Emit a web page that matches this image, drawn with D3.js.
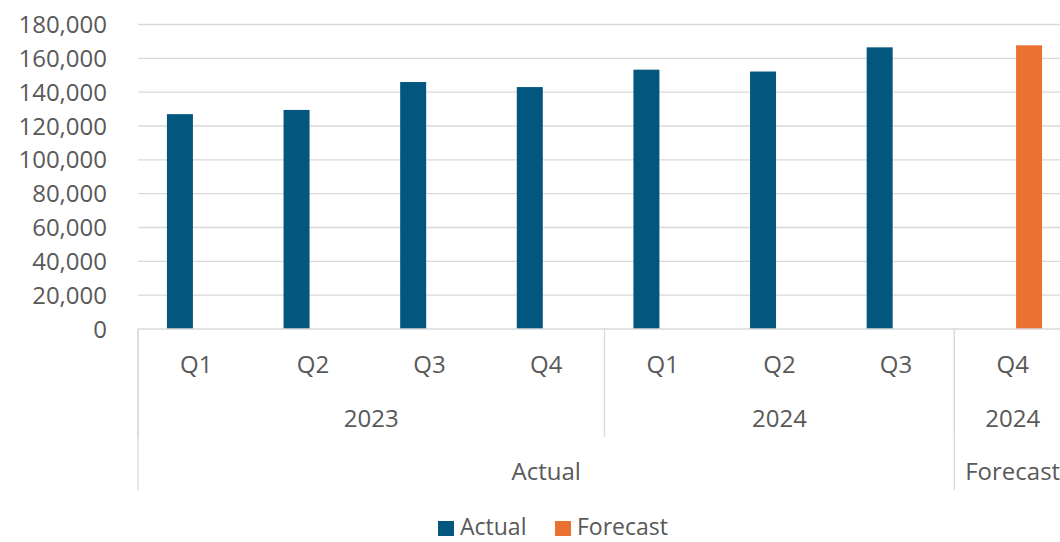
<!DOCTYPE html>
<html>
<head>
<meta charset="utf-8">
<script src="https://cdn.jsdelivr.net/npm/d3@7"></script>
<style>
  body { margin: 0; background: #fff; }
  svg { display: block; }
  text { font-family: "Open Sans", "Liberation Sans", sans-serif; fill: #595959; }
</style>
</head>
<body>
<div id="chart"></div>
<script>
// ---- data ----
var quarters = ["Q1", "Q2", "Q3", "Q4", "Q1", "Q2", "Q3", "Q4"];
var years    = ["2023", "2023", "2023", "2023", "2024", "2024", "2024", "2024"];
var groups   = ["Actual", "Actual", "Actual", "Actual", "Actual", "Actual", "Actual", "Forecast"];
var actual   = [127000, 129500, 146000, 143000, 153300, 152200, 166500, null];
var forecast = [null, null, null, null, null, null, null, 167700];
var seriesNames = ["Actual", "Forecast"];
var yTicks = [0, 20000, 40000, 60000, 80000, 100000, 120000, 140000, 160000, 180000];

(function (d3) {
    "use strict";

    var W = 1060, H = 542;
    var colors = { "Actual": "#03567e", "Forecast": "#e97132" };

    var svg = d3.select("#chart").append("svg")
        .attr("width", W)
        .attr("height", H);

    // plot area (right edge runs past the window, as in the reference)
    var left = 138, right = 1071, top = 24.5, bottom = 329;

    var idx = d3.range(quarters.length);
    var x0 = d3.scaleBand().domain(idx).range([left, right]).padding(0);
    var bw = x0.bandwidth();
    var x1 = d3.scaleBand().domain(seriesNames)
        .range([bw / 2 - bw * 0.252, bw / 2 + bw * 0.252])
        .paddingInner(0.207).paddingOuter(0);
    var y = d3.scaleLinear().domain([0, 180000]).range([bottom, top]);

    // gridlines
    svg.append("g").selectAll("line")
        .data(yTicks.filter(function (t) { return t > 0; }))
        .join("line")
        .attr("x1", left).attr("x2", right)
        .attr("y1", function (d) { return y(d); })
        .attr("y2", function (d) { return y(d); })
        .attr("stroke", "#d9d9d9").attr("stroke-width", 1.3);

    // y labels
    var fmt = d3.format(",");
    svg.append("g").selectAll("text")
        .data(yTicks)
        .join("text")
        .attr("x", 107)
        .attr("y", function (d) { return y(d) + 8.5; })
        .attr("text-anchor", "end")
        .style("font-size", "24px")
        .text(function (d) { return fmt(d); });

    // bars
    var rows = idx.map(function (i) {
        return { i: i, Actual: actual[i], Forecast: forecast[i] };
    });
    var gBars = svg.append("g");
    seriesNames.forEach(function (s) {
        gBars.selectAll("rect." + s)
            .data(rows.filter(function (r) { return r[s] != null; }))
            .join("rect")
            .attr("class", s)
            .attr("x", function (d) { return x0(d.i) + x1(s); })
            .attr("width", x1.bandwidth())
            .attr("y", function (d) { return y(d[s]); })
            .attr("height", function (d) { return y(0) - y(d[s]); })
            .attr("fill", colors[s]);
    });

    // x axis line
    svg.append("line")
        .attr("x1", left).attr("x2", right)
        .attr("y1", bottom).attr("y2", bottom)
        .attr("stroke", "#d9d9d9").attr("stroke-width", 1.3);

    // quarter labels
    svg.append("g").selectAll("text")
        .data(idx)
        .join("text")
        .attr("x", function (i) { return x0(i) + bw / 2; })
        .attr("y", 373)
        .attr("text-anchor", "middle")
        .style("font-size", "24px")
        .text(function (i) { return quarters[i]; });

    // build runs for multi-level labels
    function runs(keyFn) {
        var out = [];
        idx.forEach(function (i) {
            var k = keyFn(i);
            var last = out[out.length - 1];
            if (last && last.key === k) last.end = i;
            else out.push({ key: k, start: i, end: i });
        });
        return out;
    }
    var yearRuns = runs(function (i) { return groups[i] + "|" + years[i]; });
    var groupRuns = runs(function (i) { return groups[i]; });

    function midX(r) { return (x0(r.start) + x0(r.end) + bw) / 2; }

    svg.append("g").selectAll("text")
        .data(yearRuns)
        .join("text")
        .attr("x", midX)
        .attr("y", 427)
        .attr("text-anchor", "middle")
        .style("font-size", "24px")
        .text(function (r) { return r.key.split("|")[1]; });

    svg.append("g").selectAll("text")
        .data(groupRuns)
        .join("text")
        .attr("x", midX)
        .attr("y", 480)
        .attr("text-anchor", "middle")
        .style("font-size", "24px")
        .text(function (r) { return r.key; });

    // separators
    var sep = svg.append("g").attr("stroke", "#d9d9d9").attr("stroke-width", 1.3);
    yearRuns.forEach(function (r) {
        sep.append("line")
            .attr("x1", x0(r.start)).attr("x2", x0(r.start))
            .attr("y1", bottom).attr("y2", 437);
    });
    groupRuns.forEach(function (r) {
        sep.append("line")
            .attr("x1", x0(r.start)).attr("x2", x0(r.start))
            .attr("y1", bottom).attr("y2", 490);
    });

    // legend
    var leg = svg.append("g");
    var legX = [438, 555];
    seriesNames.forEach(function (s, k) {
        leg.append("rect")
            .attr("x", legX[k]).attr("y", 521)
            .attr("width", 16).attr("height", 15)
            .attr("fill", colors[s]);
        leg.append("text")
            .attr("x", legX[k] + 22).attr("y", 535)
            .style("font-size", "23px")
            .text(s);
    });
})(d3);
</script>
</body>
</html>
